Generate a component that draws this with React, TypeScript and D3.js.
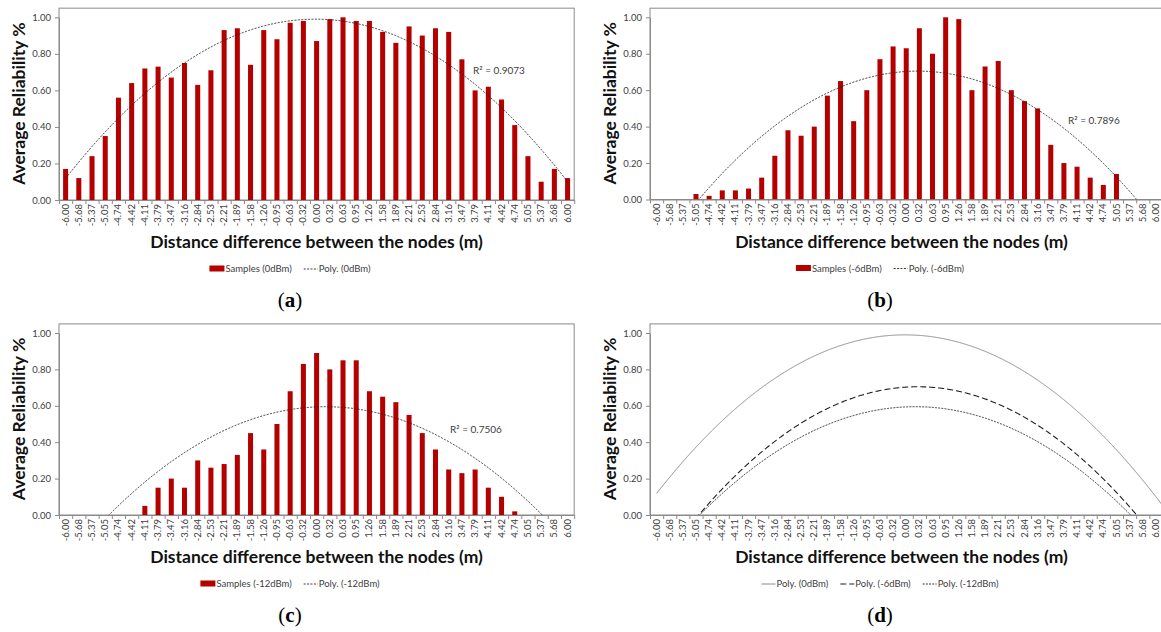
import React, { useEffect, useRef } from 'react';
import * as d3 from 'd3';

// category labels on the x axis (distance difference, m)
const categories = [
  '-6.00', '-5.68', '-5.37', '-5.05', '-4.74', '-4.42', '-4.11', '-3.79', '-3.47', '-3.16',
  '-2.84', '-2.53', '-2.21', '-1.89', '-1.58', '-1.26', '-0.95', '-0.63', '-0.32', '0.00',
  '0.32', '0.63', '0.95', '1.26', '1.58', '1.89', '2.21', '2.53', '2.84', '3.16',
  '3.47', '3.79', '4.11', '4.42', '4.74', '5.05', '5.37', '5.68', '6.00',
];

const samples0dBm = [
  0.17, 0.12, 0.24, 0.35, 0.56, 0.64, 0.72, 0.73, 0.67, 0.75,
  0.63, 0.71, 0.93, 0.94, 0.74, 0.93, 0.88, 0.97, 0.98, 0.87,
  0.99, 1.0, 0.98, 0.98, 0.92, 0.86, 0.95, 0.9, 0.94, 0.92,
  0.77, 0.6, 0.62, 0.55, 0.41, 0.24, 0.1, 0.17, 0.12,
];

const samples6dBm = [
  0, 0, 0, 0.03, 0.02, 0.05, 0.05, 0.06, 0.12, 0.24,
  0.38, 0.35, 0.4, 0.57, 0.65, 0.43, 0.6, 0.77, 0.84, 0.83,
  0.94, 0.8, 1.0, 0.99, 0.6, 0.73, 0.76, 0.6, 0.54, 0.5,
  0.3, 0.2, 0.18, 0.12, 0.08, 0.14, 0, 0, 0,
];

const samples12dBm = [
  0, 0, 0, 0, 0, 0, 0.05, 0.15, 0.2, 0.15,
  0.3, 0.26, 0.28, 0.33, 0.45, 0.36, 0.5, 0.68, 0.83, 0.89,
  0.8, 0.85, 0.85, 0.68, 0.65, 0.62, 0.55, 0.45, 0.36, 0.25,
  0.23, 0.25, 0.15, 0.1, 0.02, 0, 0, 0, 0,
];

const seriesNames = ['0dBm', '-6dBm', '-12dBm'];
const r2Texts = ['R\u00b2 = 0.9073', 'R\u00b2 = 0.7896', 'R\u00b2 = 0.7506'];
const yTicks = [0, 0.2, 0.4, 0.6, 0.8, 1.0];

const BAR = '#b50000';
const AXIS = '#8a8a8a';
const TEXT = '#404040';
const FONT = 'Lato, "Open Sans", sans-serif';

// Excel style polynomial (order 2) trendline, x = 1..n
const polyfit2 = (ys) => {
  const S = [0, 0, 0, 0, 0];
  const T = [0, 0, 0];
  ys.forEach((yv, i) => {
    const xv = i + 1;
    let p = 1;
    for (let k = 0; k < 5; k++) {
      S[k] += p;
      if (k < 3) T[k] += yv * p;
      p *= xv;
    }
  });
  const M = [
    [S[0], S[1], S[2], T[0]],
    [S[1], S[2], S[3], T[1]],
    [S[2], S[3], S[4], T[2]],
  ];
  for (let c = 0; c < 3; c++) {
    for (let r = c + 1; r < 3; r++) {
      const f = M[r][c] / M[c][c];
      for (let k = c; k < 4; k++) M[r][k] -= f * M[c][k];
    }
  }
  const coef = [0, 0, 0];
  for (let r = 2; r >= 0; r--) {
    let s = M[r][3];
    for (let k = r + 1; k < 3; k++) s -= M[r][k] * coef[k];
    coef[r] = s / M[r][r];
  }
  return (i) => coef[0] + coef[1] * (i + 1) + coef[2] * (i + 1) * (i + 1);
};

const allSamples = [samples0dBm, samples6dBm, samples12dBm];
const fits = allSamples.map(polyfit2);

const trendStyles = [
  { stroke: '#222', dash: '2,1.4', width: 0.9 },
  { stroke: '#222', dash: '2,1.4', width: 0.9 },
  { stroke: '#222', dash: '2,1.4', width: 0.9 },
];
const summaryStyles = [
  { stroke: '#8c8c8c', dash: null, width: 1 },
  { stroke: '#222', dash: '6,3', width: 1.1 },
  { stroke: '#222', dash: '2,1.2', width: 0.9 },
];

const panels = [
  { key: 'a', left: 59, step: 13.21, top: 17.3, bottom: 200, cx: 290, series: [0], bars: true, r2: { x: 473, y: 74 } },
  { key: 'b', left: 650, step: 13.14, top: 17.3, bottom: 199.5, cx: 880, series: [1], bars: true, r2: { x: 1068, y: 124 } },
  { key: 'c', left: 59, step: 13.21, top: 333, bottom: 515, cx: 290, series: [2], bars: true, r2: { x: 450, y: 433 } },
  { key: 'd', left: 650, step: 13.14, top: 333, bottom: 515, cx: 880, series: [0, 1, 2], bars: false },
];

const drawPanel = (svg, p) => {
  const n = categories.length;
  const right = p.left + p.step * n;
  const x = d3.scaleBand().domain(categories).range([p.left, right]).paddingInner(0.62).paddingOuter(0.31);
  const xi = d3.scaleLinear().domain([-0.5, n - 0.5]).range([p.left, right]);
  const y = d3.scaleLinear().domain([0, 1]).range([p.bottom, p.top]);
  const frameTop = y(1.05);

  const g = svg.append('g');
  const clipId = 'clip-' + p.key;
  svg.append('clipPath').attr('id', clipId)
    .append('rect')
    .attr('x', p.left).attr('y', frameTop)
    .attr('width', right - p.left).attr('height', p.bottom - frameTop);

  // plot area frame
  g.append('rect')
    .attr('x', p.left).attr('y', frameTop)
    .attr('width', right - p.left).attr('height', p.bottom - frameTop)
    .attr('fill', 'none').attr('stroke', AXIS).attr('stroke-width', 1);

  if (p.bars) {
    const data = allSamples[p.series[0]];
    g.append('g')
      .selectAll('rect')
      .data(data.map((v, i) => ({ v, c: categories[i] })).filter(d => d.v > 0))
      .join('rect')
      .attr('x', d => x(d.c))
      .attr('width', x.bandwidth())
      .attr('y', d => y(d.v))
      .attr('height', d => y(0) - y(d.v))
      .attr('fill', BAR);
  }

  // y axis
  const yAxis = g.append('g')
    .attr('transform', `translate(${p.left},0)`)
    .call(d3.axisLeft(y).tickValues(yTicks).tickFormat(d3.format('.2f')).tickSize(4).tickSizeOuter(0).tickPadding(4));
  yAxis.attr('font-family', FONT).attr('font-size', 9.5);
  yAxis.selectAll('line').attr('stroke', AXIS);
  yAxis.select('.domain').attr('stroke', AXIS);
  yAxis.selectAll('text').attr('fill', TEXT);

  // x axis: tick marks between categories
  const xTicks = g.append('g')
    .attr('transform', `translate(0,${p.bottom})`)
    .call(d3.axisBottom(xi).tickValues(d3.range(-0.5, n, 1)).tickFormat(() => '').tickSize(4).tickSizeOuter(0));
  xTicks.selectAll('line').attr('stroke', AXIS);
  xTicks.select('.domain').attr('stroke', AXIS);

  const xLabels = g.append('g')
    .attr('transform', `translate(0,${p.bottom})`)
    .call(d3.axisBottom(x).tickSize(0).tickSizeOuter(0));
  xLabels.select('.domain').remove();
  xLabels.attr('font-family', FONT).attr('font-size', 9.5);
  xLabels.selectAll('text')
    .attr('fill', TEXT)
    .attr('transform', 'rotate(-90)')
    .attr('text-anchor', 'end')
    .attr('x', -4)
    .attr('y', 0)
    .attr('dy', '0.32em');

  // trend lines
  const line = d3.line().x(d => xi(d[0])).y(d => y(d[1]));
  const tEnd = p.bars ? n - 1 : n - 0.5;
  p.series.forEach(s => {
    const st = p.bars ? trendStyles[s] : summaryStyles[s];
    const pts = d3.range(0, tEnd + 0.001, 0.05).map(i => [i, Math.max(-0.2, fits[s](i))]);
    g.append('path')
      .attr('clip-path', `url(#${clipId})`)
      .attr('d', line(pts))
      .attr('fill', 'none')
      .attr('stroke', st.stroke)
      .attr('stroke-width', st.width)
      .attr('stroke-dasharray', st.dash);
  });

  if (p.r2) {
    g.append('text')
      .attr('x', p.r2.x).attr('y', p.r2.y)
      .attr('font-family', FONT).attr('font-size', 10)
      .attr('fill', TEXT)
      .text(r2Texts[p.series[0]]);
  }

  // axis titles
  g.append('text')
    .attr('transform', `translate(${p.left - 34},${(p.top + p.bottom) / 2 - 5}) rotate(-90)`)
    .attr('text-anchor', 'middle')
    .attr('font-family', FONT).attr('font-weight', 700).attr('font-size', 17.5)
    .attr('fill', '#111')
    .text('Average Reliability %');

  g.append('text')
    .attr('x', (p.left + Math.min(right, 1161 + 0)) / 2 + (p.key === 'b' || p.key === 'd' ? -4 : 0))
    .attr('y', p.bottom + 48)
    .attr('text-anchor', 'middle')
    .attr('font-family', FONT).attr('font-weight', 700).attr('font-size', 17.5)
    .attr('fill', '#111')
    .text('Distance difference between the nodes (m)');

  // legend
  const items = p.bars
    ? [
        { type: 'bar', label: `Samples (${seriesNames[p.series[0]]})` },
        { type: 'line', style: trendStyles[p.series[0]], label: `Poly. (${seriesNames[p.series[0]]})` },
      ]
    : p.series.map(s => ({ type: 'line', style: summaryStyles[s], label: `Poly. (${seriesNames[s]})` }));
  const lg = g.append('g');
  let cursor = 0;
  const ly = p.bottom + 69;
  items.forEach((it, k) => {
    if (k > 0) cursor += 12;
    if (it.type === 'bar') {
      lg.append('rect').attr('x', cursor).attr('y', ly - 3.5).attr('width', 15).attr('height', 6).attr('fill', BAR);
      cursor += 16;
    } else {
      lg.append('line')
        .attr('x1', cursor).attr('x2', cursor + 14).attr('y1', ly).attr('y2', ly)
        .attr('stroke', it.style.stroke).attr('stroke-width', it.style.width)
        .attr('stroke-dasharray', it.style.dash);
      cursor += 15;
    }
    const t = lg.append('text')
      .attr('x', cursor).attr('y', ly).attr('dy', '0.35em')
      .attr('font-family', FONT).attr('font-size', 9.5).attr('fill', TEXT)
      .text(it.label);
    cursor += t.node().getComputedTextLength();
  });
  lg.attr('transform', `translate(${p.cx - cursor / 2},0)`);

  // panel letter
  const letter = g.append('text')
    .attr('x', p.cx).attr('y', p.bottom + 107)
    .attr('text-anchor', 'middle')
    .attr('font-family', '"Liberation Serif", "DejaVu Serif", serif').attr('font-size', 21)
    .attr('fill', '#000');
  letter.append('tspan').text('(');
  letter.append('tspan').attr('font-weight', 700).text(p.key);
  letter.append('tspan').text(')');
};

export default function App() {
  const ref = useRef(null);
  useEffect(() => {
    document.body.style.margin = '0';
    const svg = d3.select(ref.current);
    svg.selectAll('*').remove();
    panels.forEach(p => drawPanel(svg, p));
  }, []);
  return <svg ref={ref} width={1161} height={632} style={{ display: 'block', background: '#fff' }}></svg>;
}
